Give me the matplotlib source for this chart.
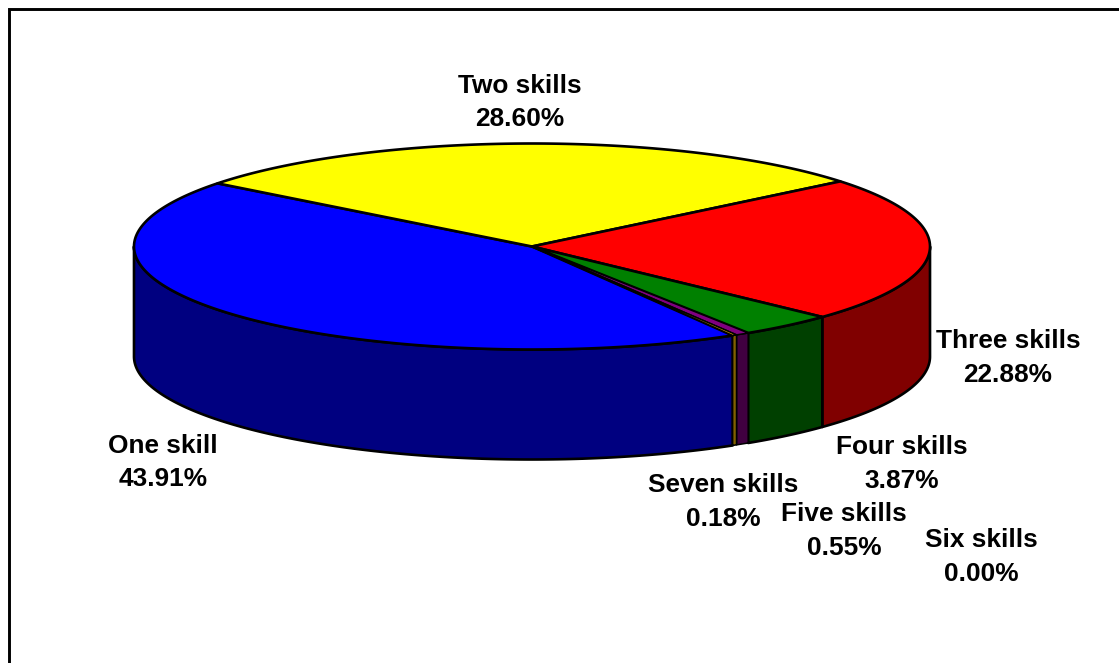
import numpy as np
import matplotlib
matplotlib.use('Agg')
import matplotlib.pyplot as plt

labels = ['One skill', 'Two skills', 'Three skills', 'Four skills',
          'Five skills', 'Six skills', 'Seven skills']
values = [43.91, 28.60, 22.88, 3.87, 0.55, 0.00, 0.18]
top_colors = ['#0000ff', '#ffff00', '#ff0000', '#008000',
              '#800080', '#00ffff', '#ffc000']
side_colors = ['#000080', '#808000', '#800000', '#004000',
               '#400040', '#008080', '#806000']
label_pos = [(163, 462.5), (520, 102.5), (1008, 358), (902, 464),
             (844, 531), (981, 557), (723, 502)]

cx, cy = 532, 246.5
rx, ry = 398, 103
depth = 110
blue_yellow_edge = 142.2  # angle of the edge where one skill meets two skills

plt.rcParams['font.family'] = ['Liberation Sans', 'DejaVu Sans']

fig = plt.figure(figsize=(11.19, 6.63), dpi=100)
ax = fig.add_axes([0, 0, 1, 1])
ax.set_xlim(0, 1119)
ax.set_ylim(663, 0)
ax.axis('off')


def ell(a):
    return cx + rx * np.cos(np.radians(a)), cy - ry * np.sin(np.radians(a))


# angles go clockwise, one skill ends at the blue/yellow edge
total = sum(values)
edges = [blue_yellow_edge + values[0] * 3.6]
for v in values:
    edges.append(edges[-1] - v * 360 / total)

# side walls first, only the part on the front of the pie
for i in range(len(values)):
    if values[i] == 0:
        continue
    a0, a1 = edges[i + 1], edges[i]
    a0, a1 = (a0 + 360) % 360, (a1 + 360) % 360
    if a1 < a0:
        a1 += 360
    lo = max(a0, 180)
    hi = min(a1, 360)
    if lo >= hi:
        continue
    t = np.linspace(lo, hi, 200)
    x, y = ell(t)
    # thin slices would vanish under a full width edge
    lw = 1.9 if values[i] > 1 else 1.1
    ax.fill(np.r_[x, x[::-1]], np.r_[y, y[::-1] + depth], fc=side_colors[i],
            ec='k', lw=lw, joinstyle='round', zorder=2 + (values[i] < 1))

# top slices
for i in range(len(values)):
    if values[i] == 0:
        continue
    t = np.linspace(edges[i + 1], edges[i], 300)
    x, y = ell(t)
    lw = 1.9 if values[i] > 1 else 1.1
    ax.fill(np.r_[cx, x], np.r_[cy, y], fc=top_colors[i], ec='k', lw=lw,
            joinstyle='round', zorder=4 + (values[i] < 1))

for i in range(len(labels)):
    ax.text(label_pos[i][0], label_pos[i][1],
            '%s\n%.2f%%' % (labels[i], values[i]), ha='center', va='center',
            fontsize=18.9, fontweight='bold', color='k', linespacing=1.5, zorder=6)

# chart border, runs off the right and bottom of the picture
ax.plot([9, 9, 1125], [670, 9, 9], color='k', lw=2.1, solid_joinstyle='miter', zorder=7)

fig.savefig('out.png', dpi=100, facecolor='white')
